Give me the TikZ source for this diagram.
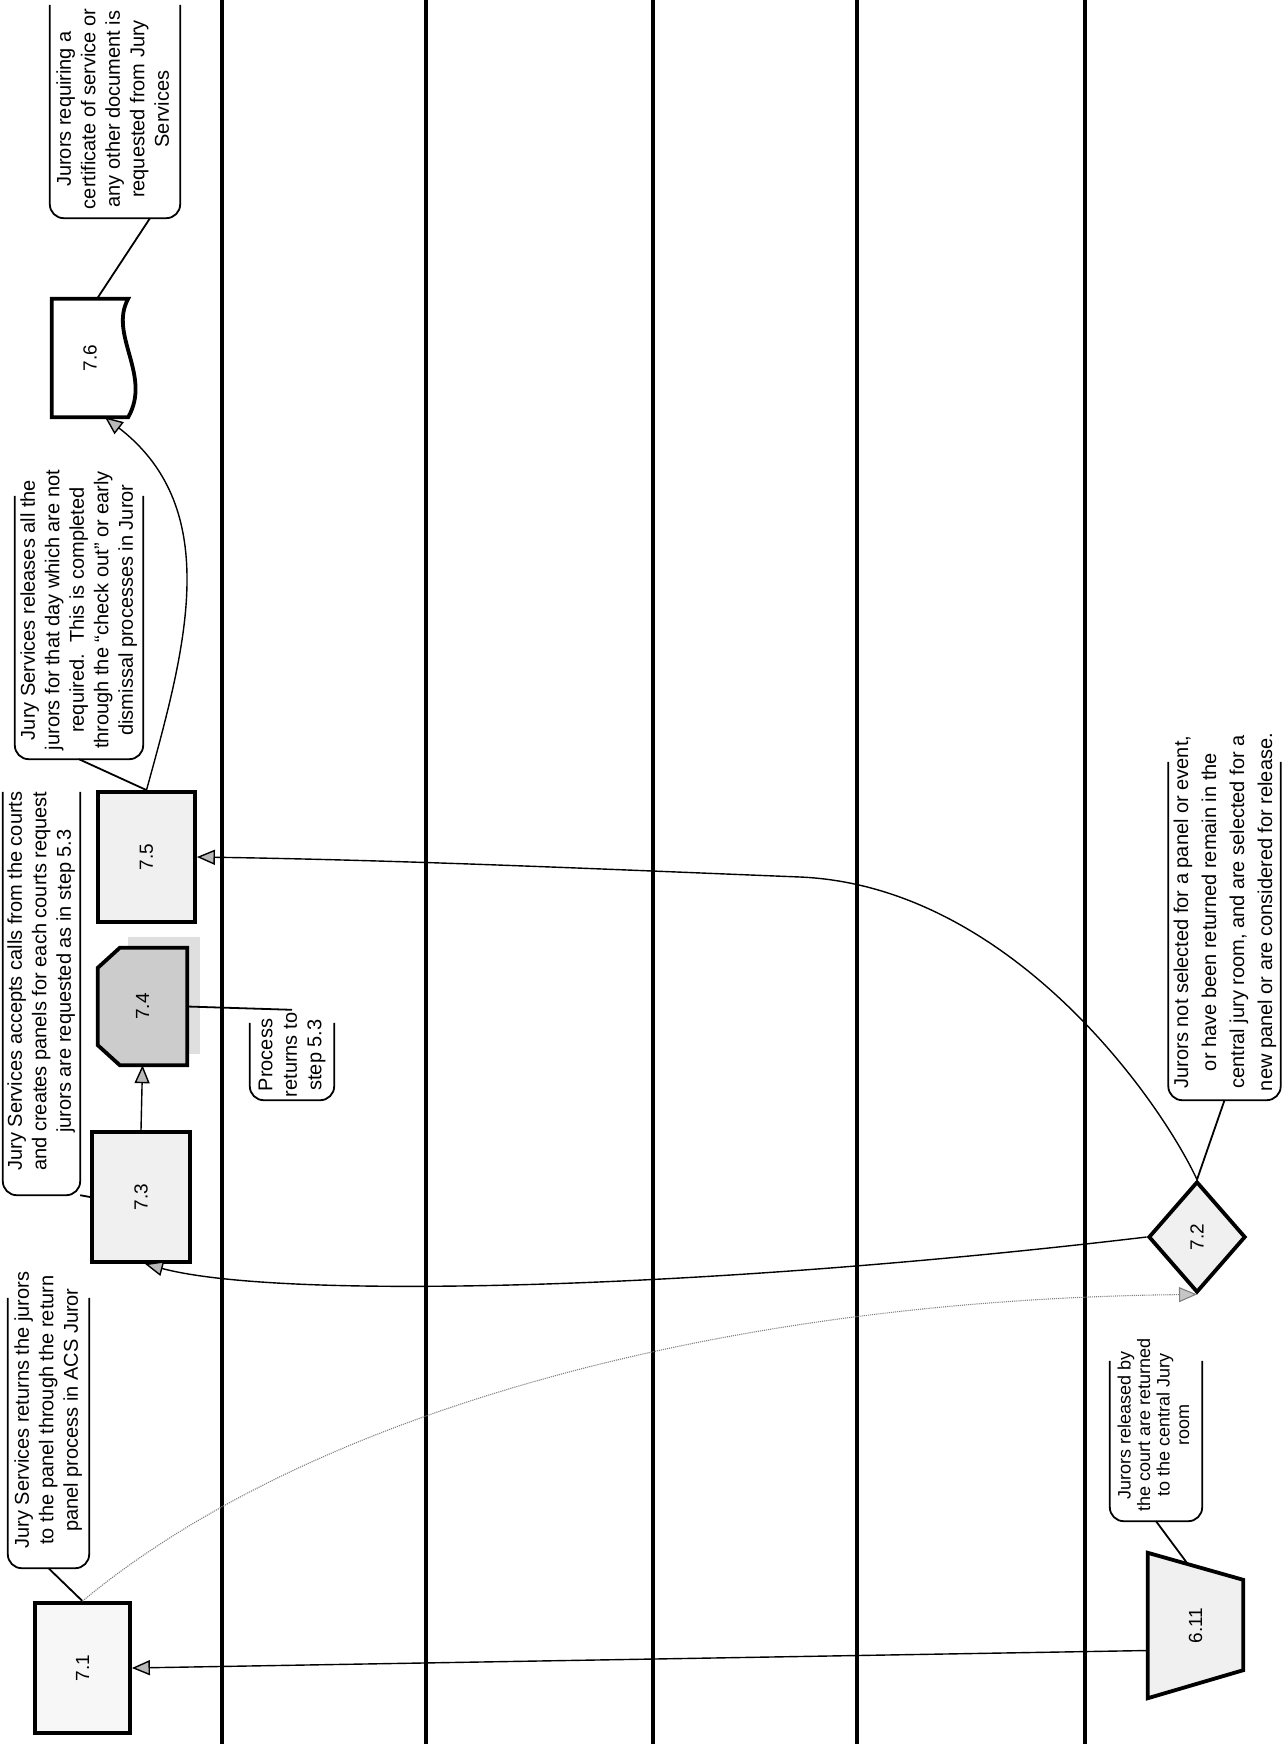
\documentclass[tikz,border=0pt]{standalone}
\usepackage{fontspec}
\setmainfont{Liberation Sans}
\usetikzlibrary{arrows.meta, shapes.geometric, calc, backgrounds}

\tikzset{
  lane/.style={line width=4.5pt},
  stepbox/.style={draw, line width=3.8pt, fill=gray!12, inner sep=0pt,
                  font=\fontsize{19}{22}\selectfont},
  plainstep/.style={inner sep=0pt, font=\fontsize{19}{22}\selectfont},
  stepline/.style={line width=3.8pt, line join=miter},
  note/.style={inner sep=0pt, font=\fontsize{20}{24.5}\selectfont},
  noteline/.style={line width=1.8pt, rounded corners=14pt},
  link/.style={line width=1.8pt},
  flow/.style={line width=1.4pt, -{Triangle[length=18pt,width=15pt,fill=gray!55]}},
  weakflow/.style={line width=1.1pt, gray, densely dotted,
                   -{Triangle[length=18pt,width=15pt,fill=gray!45]}},
}
\newcommand{\vlab}[1]{\rotatebox{90}{#1}}
\newcommand{\vlines}[1]{\rotatebox{90}{\begin{tabular}{@{}c@{}}#1\end{tabular}}}
% open-topped frame round a note: node name, gap at the top
\newcommand{\noteframe}[2]{%
  \draw[noteline] ([yshift=-#2pt]#1.north west) -- (#1.south west)
    -- (#1.south east) -- ([yshift=-#2pt]#1.north east);}

\begin{document}
\begin{tikzpicture}[x=1pt, y=-1pt]
\useasboundingbox (0,0) rectangle (1282,1744);

% swimlanes
\foreach \lx in {222,426,653,857,1085}
  \draw[lane] (\lx,0) -- (\lx,1744);

% steps
\node[stepbox, fill=gray!6, minimum width=95pt, minimum height=130pt] (n71) at (82.5,1668) {\vlab{7.1}};
\node[stepbox, shape=diamond, minimum width=97pt, minimum height=111pt] (n72) at (1197,1237) {\vlab{7.2}};
\node[stepbox, minimum width=98pt, minimum height=130pt] (n73) at (141,1197) {\vlab{7.3}};
\node[plainstep, minimum width=89pt, minimum height=117pt] (n74) at (142.5,1006.5) {\vlab{7.4}};
\node[stepbox, minimum width=97pt, minimum height=130pt] (n75) at (146.5,857) {\vlab{7.5}};
\node[plainstep, minimum width=76pt, minimum height=118pt] (n76) at (90,358) {\vlab{7.6}};
\node[plainstep, minimum width=95pt, minimum height=145pt] (n611) at (1195.5,1625.5) {\vlab{6.11}};

\begin{scope}[on background layer]
  \fill[gray!25] ([shift={(30,-11)}]n74.north west) rectangle ([shift={(13,-11)}]n74.south east);
  \draw[stepline, fill=gray!40] ([xshift=22pt]n74.north west) -- (n74.north east)
    -- (n74.south east) -- ([xshift=22pt]n74.south west)
    -- ([yshift=20pt]n74.south west) -- ([yshift=-20pt]n74.north west) -- cycle;
  \draw[stepline, fill=white] (n76.south west) -- (n76.north west) -- (n76.north east)
    .. controls ([shift={(-20,36)}]n76.north east) and ([shift={(24,-42)}]n76.south east)
    .. (n76.south east) -- cycle;
  \draw[stepline, fill=gray!12] (n611.north west) -- ([yshift=-27pt]n611.north east)
    -- ([yshift=28pt]n611.south east) -- (n611.south west) -- cycle;
\end{scope}

% notes
\node[note, minimum width=130pt, minimum height=218pt] (c76) at (115,109)
  {\vlines{Jurors requiring a\\certificate of service or\\any other document is\\requested from Jury\\Services}};
\noteframe{c76}{5}
\node[note, minimum width=128pt, minimum height=298pt] (c75) at (79,610)
  {\vlines{Jury Services releases all the\\jurors for that day which are not\\required.\ \ This is completed\\through the “check out” or early\\dismissal processes in Juror}};
\noteframe{c75}{35}
\node[note, minimum width=77pt, minimum height=428pt] (c73) at (41.5,981)
  {\vlines{Jury Services accepts calls from the courts\\and creates panels for each courts request\\jurors are requested as in step 5.3}};
\noteframe{c73}{25}
\node[note, minimum width=84pt, minimum height=90pt] (c74) at (292,1055)
  {\vlines{Process\\returns to\\step 5.3}};
\noteframe{c74}{13}
\node[note, minimum width=81pt, minimum height=316pt] (c71) at (48.5,1410)
  {\vlines{Jury Services returns the jurors\\to the panel through the return\\panel process in ACS Juror}};
\noteframe{c71}{46}
\node[note, font=\fontsize{20}{28}\selectfont, minimum width=111pt, minimum height=376pt] (c72) at (1224.5,912)
  {\vlines{Jurors not selected for a panel or event,\\or have been returned remain in the\\central jury room, and are selected for a\\new panel or are considered for release.}};
\noteframe{c72}{38}
\node[note, font=\fontsize{18}{19.5}\selectfont, minimum width=92pt, minimum height=192pt] (c611) at (1156,1425)
  {\vlines{Jurors released by\\the court are returned\\to the central Jury\\room}};
\noteframe{c611}{32}

% note links
\draw[link] ([xshift=7pt]n76.north) -- ([xshift=35pt]c76.south);
\draw[link] (c75.south) -- (n75.north);
\draw[link] (c73.south east) -- (n73.west);
\draw[link] (n74.east) -- (c74.north);
\draw[link] (c71.south) -- (n71.north);
\draw[link] (n72.north) -- (c72.south);
\draw[link] ($(n611.north west)!0.42!([yshift=-27pt]n611.north east)$) -- (c611.south);

% flow
\draw[flow] (n73.north) -- (n74.south);
\draw[flow] ([yshift=-25pt]n611.west) -- (n71.east);
\draw[flow] (n75.north) .. controls (185,650) and (225,510) .. ([xshift=15pt]n76.south);
\draw[flow] (n72.west) .. controls (700,1290) and (280,1300) .. ([xshift=4pt]n73.south);
\draw[flow] (n72.north) .. controls (1160,1100) and (1010,886) .. (800,877)
  .. controls (600,869) and (400,860) .. (n75.east);
\draw[weakflow] (n71.north) .. controls (300,1420) and (700,1300) .. (n72.south);
\end{tikzpicture}
\end{document}
